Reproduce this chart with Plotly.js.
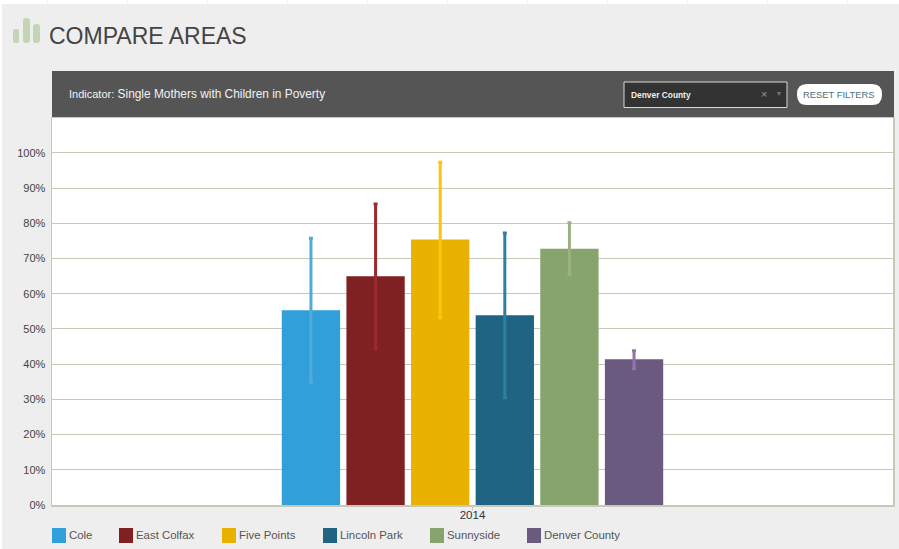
<!DOCTYPE html>
<html><head><meta charset="utf-8">
<script src="https://cdn.plot.ly/plotly-3.0.1.min.js"></script>
<style>html,body{margin:0;padding:0;background:#eeeeee;overflow:hidden}#chart{width:899px;height:549px}</style>
</head><body><div id="chart"></div>
<script>
const years = ['2014'];
const areas = ['Cole','East Colfax','Five Points','Lincoln Park','Sunnyside','Denver County'];
const values = [55.3,65.0,75.4,53.9,72.8,41.4];
const errorHigh = [75.8,85.5,97.4,77.3,80.2,43.8];
const errorLow = [34.8,44.4,53.2,30.5,65.5,38.7];
const barColors = ['#319fd9','#7f2022','#e9b200','#1f6482','#87a46c','#6b5a80'];
const errColors = ['#52aadb','#9a2a2c','#fdc30f','#2f7fa3','#9bb183','#9274ab'];
const tickVals = [0,10,20,30,40,50,60,70,80,90,100];
const tickText = tickVals.map(v => v + '%');
const legendX = [52,119,222,323,430,527];
const stripTicks = [47,127,207,287,367,447,527,607,687,767,847];

const W = 899, H = 549;
const L = 52, R = 893, T = 118, B = 505;
const FONT = 'Liberation Sans, Arial, sans-serif';
const px = x => (x - L) / (R - L), py = y => (B - y) / (B - T);
const rect = (x0,y0,x1,y1,fill,line) => ({type:'rect',xref:'paper',yref:'paper',layer:'below',
  x0:px(x0),x1:px(x1),y0:py(y0),y1:py(y1),fillcolor:fill,line:line||{width:0}});
const note = (x,y,text,size,color,anchor) => ({xref:'paper',yref:'paper',x:px(x),y:py(y),text,showarrow:false,
  xanchor:anchor||'left',yanchor:'middle',borderpad:0,font:{family:FONT,size,color}});
const pill = (x0,y0,x1,y1,r,fill) => {
  const p=(x,y)=>px(x)+','+py(y);
  return {type:'path',xref:'paper',yref:'paper',fillcolor:fill,line:{width:0},
   path:`M${p(x0+r,y0)} L${p(x1-r,y0)} Q${p(x1,y0)} ${p(x1,y0+r)} L${p(x1,y1-r)} Q${p(x1,y1)} ${p(x1-r,y1)} L${p(x0+r,y1)} Q${p(x0,y1)} ${p(x0,y1-r)} L${p(x0,y0+r)} Q${p(x0,y0)} ${p(x0+r,y0)} Z`};
};

const traces = areas.map((name,i) => ({
  type:'bar', name, x:years, y:[values[i]],
  marker:{color:barColors[i],line:{width:0}},
  error_y:{type:'data',symmetric:false,array:[errorHigh[i]-values[i]],arrayminus:[values[i]-errorLow[i]],
    color:errColors[i],thickness:3,width:2},
  showlegend:false, hoverinfo:'name+y'
}));

const shapes = [
  rect(0,0,W,4,'#ffffff'),
  rect(0,0,2,H,'#ffffff'),
  rect(L,71,R+1,118,'#555555'),
  rect(624,82,787,107.5,'#333333',{color:'#d8d8d8',width:1}),
  pill(797,84,882,105,10,'#ffffff'),
  pill(13,29,19,43,2.5,'#c3d5b4'),
  pill(23,18,30,43,3,'#c3d5b4'),
  pill(33,24,40,43,3,'#c3d5b4')
];
stripTicks.forEach(x=>shapes.push(rect(x,0,x+1,4,'#f3f3f3')));
areas.forEach((a,i)=>shapes.push(rect(legendX[i],528,legendX[i]+14,543,barColors[i])));

const annotations = [
  note(68,94,'<span style="font-size:11px">Indicator:</span> Single Mothers with Children in Poverty',11.9,'#f2f2f2'),
  note(630,95.5,'<b>Denver County</b>',8.4,'#eeeeee'),
  note(764,94,'×',11,'#999999','center'),
  note(779,94,'▾',8,'#777777','center'),
  note(839,95,'RESET FILTERS',9.4,'#4e6f78','center')
];
areas.forEach((a,i)=>annotations.push(note(legendX[i]+16,535,a,11.4,'#555555')));

Plotly.newPlot('chart',traces,{
  width:W,height:H,
  paper_bgcolor:'#eeeeee',plot_bgcolor:'#ffffff',
  margin:{l:L,r:W-R,t:T,b:H-B,pad:0},
  font:{family:FONT,size:12,color:'#333333'},
  title:{text:'COMPARE AREAS',x:49/W,xanchor:'left',xref:'container',yref:'container',y:1-36/H,yanchor:'middle',
    font:{family:FONT,size:23,color:'#444444'}},
  barmode:'group',bargap:0.539,bargroupgap:0.0975,
  xaxis:{type:'category',tickvals:years,ticktext:years,ticks:'outside',ticklen:3,tickcolor:'#c8c8b8',
    ticklabelstandoff:-4,
    showline:true,linecolor:'#c8c8b8',linewidth:1.5,mirror:true,showgrid:false,fixedrange:true,
    tickfont:{size:11.5,color:'#333333'}},
  yaxis:{range:[0,109.94],tickvals:tickVals,ticktext:tickText,ticks:'',gridcolor:'#c9c9ba',gridwidth:1,
    ticklabelstandoff:3,
    zeroline:false,showline:true,linecolor:'#c8c8b8',linewidth:1.5,mirror:true,fixedrange:true,
    tickfont:{size:11,color:'#444444'}},
  shapes,annotations
},{displayModeBar:false,staticPlot:true});
</script></body></html>
